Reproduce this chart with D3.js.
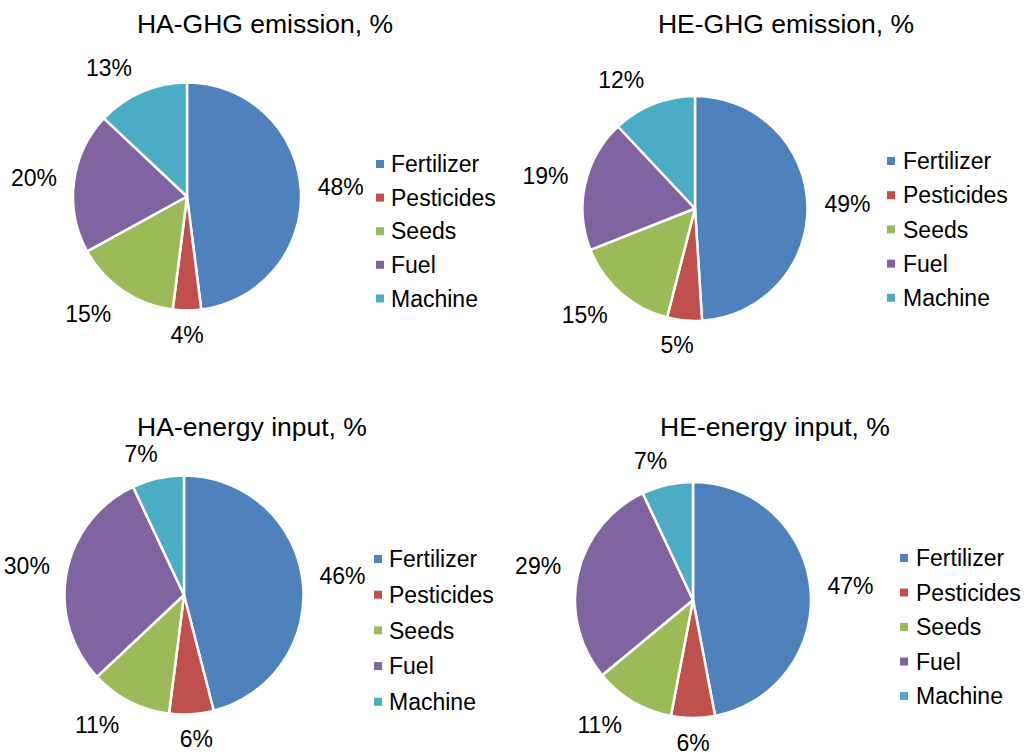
<!DOCTYPE html>
<html>
<head>
<meta charset="utf-8">
<script src="https://cdn.jsdelivr.net/npm/d3@7"></script>
<style>
  html, body { margin: 0; padding: 0; background: #fff; }
  svg { display: block; font-family: "Liberation Sans", Arial, sans-serif; }
</style>
</head>
<body>
<svg id="chart" width="1028" height="752"></svg>
<script>
// ---- data ----
const categories = ["Fertilizer", "Pesticides", "Seeds", "Fuel", "Machine"];
const titles = ["HA-GHG emission, %", "HE-GHG emission, %", "HA-energy input, %", "HE-energy input, %"];
const haGhg = [48, 4, 15, 20, 13];
const heGhg = [49, 5, 15, 19, 12];
const haEnergy = [46, 6, 11, 30, 7];
const heEnergy = [47, 6, 11, 29, 7];
const seriesList = [haGhg, heGhg, haEnergy, heEnergy];

// ---- style / layout ----
const colors = ["#4F81BD", "#C0504D", "#9BBB59", "#8064A2", "#4BACC6"];
const layout = [
  { cx: 187, cy: 196.5, r: 114, tx: 265, ty: 33, lx: 376, ltx: 391, ly: 164, lstep: 33.6 },
  { cx: 695, cy: 208.5, r: 112.5, tx: 786, ty: 33, lx: 887, ltx: 903, ly: 161, lstep: 34.2 },
  { cx: 184, cy: 595, r: 119.5, tx: 252, ty: 436, lx: 374, ltx: 389, ly: 559, lstep: 35.7 },
  { cx: 693, cy: 600, r: 118, tx: 775, ty: 436, lx: 900, ltx: 916, ly: 558, lstep: 34.5 }
];
const labelFont = 23, titleFont = 26.5, legendFont = 23;

const svg = d3.select("#chart");
const color = d3.scaleOrdinal().domain(categories).range(colors);
const pie = d3.pie().sort(null).value(d => d.value);
const fmt = v => d3.format(".0f")(v) + "%";

seriesList.forEach((values, i) => {
  const L = layout[i];
  const data = categories.map((c, j) => ({ cat: c, value: values[j] }));
  const arcs = pie(data);
  const arc = d3.arc().innerRadius(0).outerRadius(L.r);
  const g = svg.append("g").attr("transform", `translate(${L.cx},${L.cy})`);

  g.selectAll("path").data(arcs).join("path")
    .attr("d", arc)
    .attr("fill", d => color(d.data.cat))
    .attr("stroke", "#fff")
    .attr("stroke-width", 2.5)
    .attr("stroke-linejoin", "round");

  // outside-end labels
  const gap = 12;
  g.selectAll("text.lbl").data(arcs).join("text")
    .attr("class", "lbl")
    .attr("font-size", labelFont)
    .attr("fill", "#000")
    .attr("text-anchor", "middle")
    .text(d => fmt(d.data.value))
    .each(function(d) {
      const a = (d.startAngle + d.endAngle) / 2;
      const s = Math.sin(a), c = -Math.cos(a);
      const bb = this.getBBox();
      const w = bb.width + 10, h = labelFont * 1.1;
      const ax = (L.r + gap) * s, ay = (L.r + gap) * c;
      const fx = Math.max(-1, Math.min(1, s * 3));
      const fy = Math.max(-1, Math.min(1, c * 2));
      const x = ax + fx * w / 2, y = ay + fy * h / 2;
      d3.select(this).attr("x", x).attr("y", y + labelFont * 0.358);
    });

  // title
  svg.append("text")
    .attr("x", L.tx).attr("y", L.ty)
    .attr("text-anchor", "middle")
    .attr("font-size", titleFont)
    .attr("fill", "#000")
    .text(titles[i]);

  // legend
  const lg = svg.append("g");
  const items = lg.selectAll("g").data(categories).join("g")
    .attr("transform", (d, j) => `translate(0,${L.ly + j * L.lstep})`);
  items.append("rect")
    .attr("x", L.lx).attr("y", -4).attr("width", 8).attr("height", 8)
    .attr("fill", d => color(d));
  items.append("text")
    .attr("x", L.ltx).attr("y", legendFont * 0.358)
    .attr("font-size", legendFont)
    .attr("fill", "#000")
    .text(d => d);
});
</script>
</body>
</html>
